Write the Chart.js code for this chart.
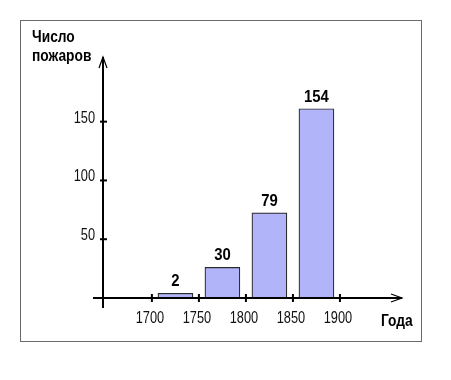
<!DOCTYPE html>
<html>
<head>
<meta charset="utf-8">
<script src="https://cdn.jsdelivr.net/npm/chart.js@4/dist/chart.umd.min.js"></script>
<style>
  html, body { margin: 0; padding: 0; background: #fff; }
  #wrap { position: relative; width: 451px; height: 380px; }
  #frame {
    position: absolute; left: 20px; top: 20px; width: 400px; height: 320px;
    border: 1.5px solid #6a6a6a;
  }
  canvas { position: absolute; left: 0; top: 0; }
</style>
</head>
<body>
<div id="wrap">
  <div id="frame"></div>
  <canvas id="Chart" width="451" height="380"></canvas>
</div>
<script>
// periods (bar centres, years)
const periods = [1725, 1775, 1825, 1875];
// bar heights as drawn
const barHeights = [4, 26, 72.5, 161];
// numbers written above the bars
const fireCounts = ["2", "30", "79", "154"];
const xTicks = [1700, 1750, 1800, 1850, 1900];
const yTicks = [50, 100, 150];
const yTitle = ["Число", "пожаров"];
const xTitle = "Года";

const family = "'Liberation Sans', Arial, sans-serif";

// text squeezed horizontally, like in the original picture
function squeezed(ctx, text, x, y, font, align, sx) {
  ctx.save();
  ctx.font = font;
  ctx.textAlign = align;
  ctx.translate(x, y);
  ctx.scale(sx, 1);
  ctx.fillText(text, 0, 0);
  ctx.restore();
}

const axesPlugin = {
  id: "axes",
  afterDatasetsDraw(chart) {
    const ctx = chart.ctx;
    const x = chart.scales.x;
    const y = chart.scales.y;
    const x0 = x.getPixelForValue(x.min);
    const y0 = y.getPixelForValue(0);
    const xEnd = x.getPixelForValue(x.max);
    const yEnd = y.getPixelForValue(y.max);

    ctx.save();
    ctx.strokeStyle = "#000";
    ctx.lineWidth = 2;
    // x axis
    ctx.beginPath();
    ctx.moveTo(x0 - 10, y0);
    ctx.lineTo(xEnd, y0);
    ctx.stroke();
    ctx.lineWidth = 1.2;
    ctx.beginPath();
    ctx.moveTo(xEnd - 11, y0 - 4);
    ctx.lineTo(xEnd, y0);
    ctx.lineTo(xEnd - 11, y0 + 4);
    ctx.stroke();
    // y axis
    ctx.lineWidth = 2;
    ctx.beginPath();
    ctx.moveTo(x0, y0 + 10);
    ctx.lineTo(x0, yEnd);
    ctx.stroke();
    ctx.lineWidth = 1.2;
    ctx.beginPath();
    ctx.moveTo(x0 - 4, yEnd + 11);
    ctx.lineTo(x0, yEnd);
    ctx.lineTo(x0 + 4, yEnd + 11);
    ctx.stroke();

    // x ticks
    ctx.lineWidth = 2;
    ctx.fillStyle = "#111";
    ctx.textBaseline = "alphabetic";
    xTicks.forEach((v) => {
      const px = x.getPixelForValue(v);
      ctx.beginPath();
      ctx.moveTo(px, y0 - 4);
      ctx.lineTo(px, y0 + 4);
      ctx.stroke();
      squeezed(ctx, String(v), px - 2, y0 + 25, "16px " + family, "center", 0.8);
    });
    // y ticks
    yTicks.forEach((v) => {
      const py = y.getPixelForValue(v);
      ctx.beginPath();
      ctx.moveTo(x0 - 3, py);
      ctx.lineTo(x0 + 4, py);
      ctx.stroke();
      squeezed(ctx, String(v), x0 - 8, py + 1, "16px " + family, "right", 0.8);
    });

    // axis titles
    ctx.fillStyle = "#000";
    const tf = "bold 16px " + family;
    squeezed(ctx, yTitle[0], 32, 42, tf, "left", 0.86);
    squeezed(ctx, yTitle[1], 32, 61, tf, "left", 0.86);
    squeezed(ctx, xTitle, 381, 326, tf, "left", 0.86);

    // values above bars
    const meta = chart.getDatasetMeta(0);
    meta.data.forEach((bar, i) => {
      squeezed(ctx, fireCounts[i], bar.x, bar.y - 7, "bold 16px " + family, "center", 0.93);
    });
    ctx.restore();
  }
};

new Chart(document.getElementById("Chart"), {
  type: "bar",
  data: {
    datasets: [{
      data: periods.map((p, i) => ({ x: p, y: barHeights[i] })),
      backgroundColor: "#b1b4f8",
      borderColor: "#2a2a2a",
      borderWidth: 1.2,
      borderSkipped: false,
      barThickness: 35
    }]
  },
  options: {
    responsive: false,
    animation: false,
    events: [],
    layout: { padding: { left: 103, right: 49, top: 57, bottom: 82 } },
    plugins: { legend: { display: false }, tooltip: { enabled: false } },
    scales: {
      x: { type: "linear", min: 1648, max: 1966, offset: false, display: false },
      y: { min: 0, max: 205, display: false }
    }
  },
  plugins: [axesPlugin]
});
</script>
</body>
</html>
